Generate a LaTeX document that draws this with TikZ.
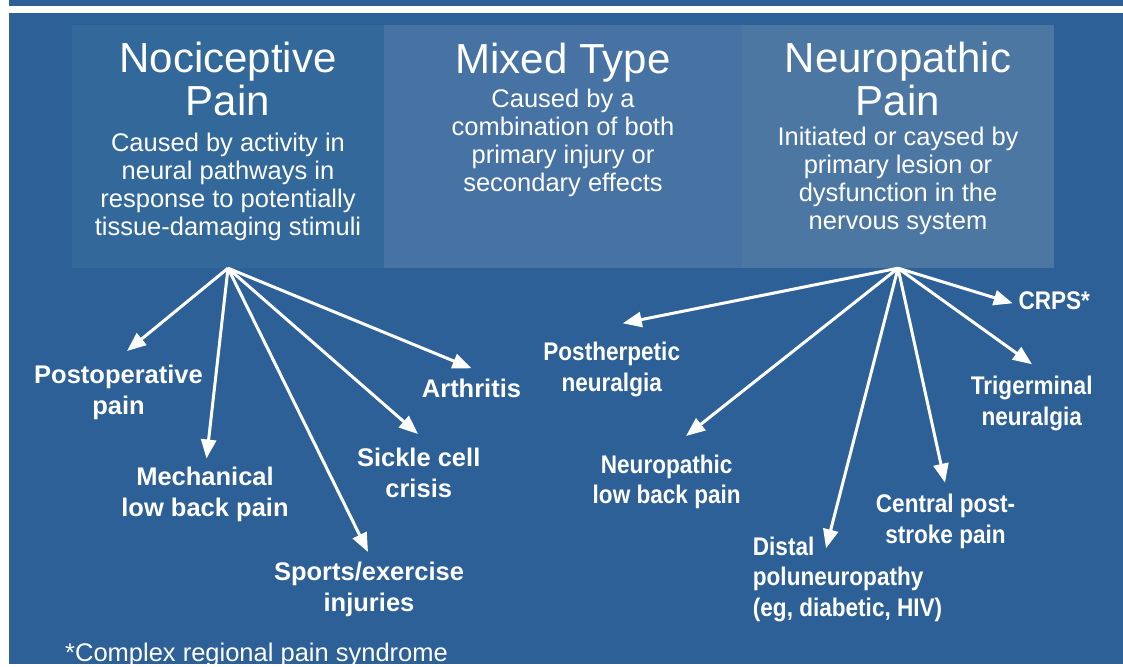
\documentclass[tikz,border=0pt]{standalone}
\usepackage{fontspec}
\setmainfont{Liberation Sans}
\newfontfamily\condsans{Liberation Sans}[FakeStretch=0.885]
\definecolor{pbg}{RGB}{45,96,150}
\definecolor{pnoci}{RGB}{51,104,154}
\definecolor{pmixed}{RGB}{70,115,164}
\definecolor{pneuro}{RGB}{75,119,162}
\usetikzlibrary{arrows.meta,positioning,calc}

\begin{document}
\begin{tikzpicture}[x=1pt, y=-1pt,
  catbox/.style={rectangle, draw=none, minimum width=312pt, minimum height=243pt,
                 inner sep=0pt},
  ttl/.style={anchor=base, inner sep=0pt, align=center, text=white,
              font=\fontsize{42}{43}\selectfont},
  desc/.style={anchor=base, inner sep=0pt, align=center, text=white,
               font=\fontsize{25.5}{28}\selectfont},
  lbl/.style={anchor=base, inner sep=0pt, align=center, text=white,
              font=\fontsize{25.5}{30.5}\selectfont\bfseries},
  nlbl/.style={lbl, font=\fontsize{25.5}{30.5}\selectfont\condsans\bfseries},
  parr/.style={-{Triangle[length=19pt, width=15pt]}, line width=3pt, draw=white}
]
% Background
\fill[white] (0,0) rectangle (1123,664);
\fill[pbg] (9,0) rectangle (1123,6);
\fill[pbg] (9,13.3) rectangle (1123,664);

% Category boxes
\node[catbox, fill=pnoci]  (noc) at (228,146.5) {};
\node[catbox, fill=pmixed, minimum width=358pt] (mix) at (563,146.5) {};
\node[catbox, fill=pneuro] (neu) at (898,146.5) {};

% base = last line
\node[ttl]  (noct) at (228,115) {Nociceptive\\Pain};
\node[desc] (nocd) at (228,235) {Caused by activity in\\neural pathways in\\response to potentially\\tissue-damaging stimuli};
\node[ttl]  (mixt) at (563,73) {Mixed Type};
\node[desc] (mixd) at (563,191) {Caused by a\\combination of both\\primary injury or\\secondary effects};
\node[ttl]  (neut) at (898,115) {Neuropathic\\Pain};
\node[desc] (neud) at (898,229) {Initiated or caysed by\\primary lesion or\\dysfunction in the\\nervous system};

% Nociceptive examples
\node[lbl] (postop) at (118.5,414) {Postoperative\\pain};
\node[lbl] (mech)   at (205,516)   {Mechanical\\low back pain};
\node[lbl] (sport)  at (369,611)   {Sports/exercise\\injuries};
\node[lbl] (sickle) at (418.7,497) {Sickle cell\\crisis};
\node[lbl] (arth)   at (471.5,397) {Arthritis};

% Neuropathic examples
\node[nlbl] (pherp)  at (611.7,391) {Postherpetic\\neuralgia};
\node[nlbl] (nlbp)   at (666.7,503.5) {Neuropathic\\low back pain};
\node[nlbl, anchor=base west, align=left] (distal) at (752.7,616) {Distal\\poluneuropathy\\(eg, diabetic, HIV)};
\node[nlbl] (cpsp)   at (945.5,543) {Central post-\\stroke pain};
\node[nlbl] (trig)   at (1031.7,425) {Trigerminal\\neuralgia};
\node[nlbl, anchor=base west] (crps) at (1018.3,309.3) {CRPS*};

% Footnote
\node[anchor=base west, inner sep=0pt, text=white, font=\fontsize{25.5}{28}\selectfont]
  (fnote) at (65,661.7) {*Complex regional pain syndrome};

% Arrows
\draw[parr] (noc.south) -- ([shift={(8.5,-63)}]postop.base);
\draw[parr] (noc.south) -- ([shift={(1.5,-57.5)}]mech.base);
\draw[parr] (noc.south) -- ([shift={(-1,-59)}]sport.base);
\draw[parr] (noc.south) -- ([shift={(-0.7,-63)}]sickle.base);
\draw[parr] (noc.south) -- ([shift={(0,-28.7)}]arth.base);

\draw[parr] (neu.south) -- ([shift={(11,-67.7)}]pherp.base);
\draw[parr] (neu.south) -- ([shift={(19.3,-67.5)}]nlbp.base);
\draw[parr] (neu.south) -- ([shift={(73.3,-67.7)}]distal.base west);
\draw[parr] (neu.south) -- ([shift={(-0.5,-60.3)}]cpsp.base);
\draw[parr] (neu.south) -- ([shift={(0.3,-60.7)}]trig.base);
\draw[parr] (neu.south) -- ([shift={(-5.6,-6)}]crps.base west);
\end{tikzpicture}
\end{document}
